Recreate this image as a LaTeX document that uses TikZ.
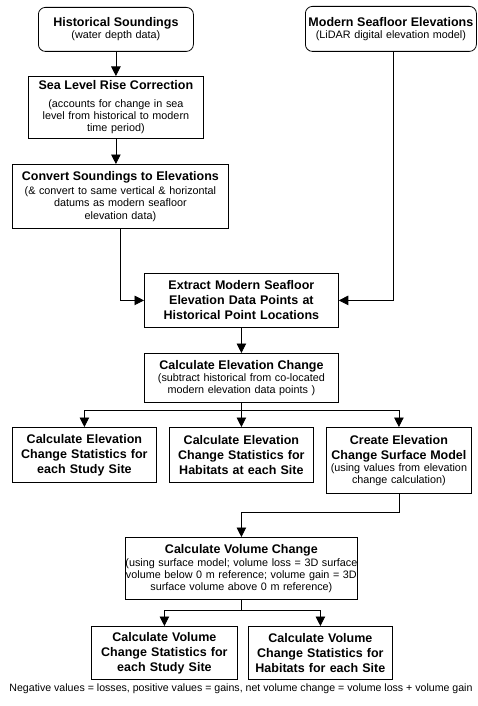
\documentclass[tikz,border=0pt]{standalone}
\usepackage{fontspec}
\setmainfont{Liberation Sans}
\usetikzlibrary{arrows.meta}
\def\steptitle#1{{\fontsize{12.5}{15}\selectfont\bfseries #1}}
\tikzset{
	flowbox/.style={draw=black, line width=0.8pt, anchor=north west, align=center, inner sep=0pt, font=\fontsize{10.8}{12.2}\selectfont},
	titlebox/.style={flowbox, font=\fontsize{12.5}{15}\selectfont\bfseries},
	startbox/.style={flowbox, rounded corners=7pt},
	flowarrow/.style={line width=0.8pt, -{Triangle[length=9.5pt,width=9.5pt]}},
}

\begin{document}
\begin{tikzpicture}[x=1pt, y=-1pt]
		%%%%% START %%%%%
		\useasboundingbox (0,0) rectangle (477,706);
		
		\node[startbox, text width=155pt, minimum height=44pt] (hist) at (38,7) {\steptitle{Historical Soundings}\\(water depth data)};
		\node[startbox, text width=171pt, minimum height=45pt] (modern) at (305,6) {\steptitle{Modern Seafloor Elevations}\\(LiDAR digital elevation model)};
		
		\node[flowbox, text width=175pt, minimum height=62pt] (slr) at (28,76) {\steptitle{Sea Level Rise Correction}\\[5.5pt](accounts for change in sea\\level from historical to modern\\time period)};
		\node[flowbox, text width=216pt, minimum height=64pt] (conv) at (12,164) {\steptitle{Convert Soundings to Elevations}\\[2pt](\& convert to same vertical \& horizontal\\datums as modern seafloor\\elevation data)};
		
		\node[titlebox, text width=194pt, minimum height=54pt] (extract) at (144,273) {Extract Modern Seafloor\\Elevation Data Points at\\Historical Point Locations};
		\node[flowbox, text width=194pt, minimum height=49pt] (elev) at (144,353) {\steptitle{Calculate Elevation Change}\\(subtract historical from co-located\\modern elevation data points )};
		
		\node[titlebox, text width=144pt, minimum height=55pt] (statsite) at (12,427) {Calculate Elevation\\Change Statistics for\\each Study Site};
		\node[titlebox, text width=144pt, minimum height=55pt] (stathab) at (169,427) {Calculate Elevation\\Change Statistics for\\Habitats at each Site};
		\node[flowbox, text width=145pt, minimum height=66pt] (surf) at (326,427) {\steptitle{Create Elevation\\[2.8pt]Change Surface Model}\\(using values from elevation\\change calculation)};
		
		\node[flowbox, text width=232pt, minimum height=62pt] (vol) at (125,537) {\steptitle{Calculate Volume Change}\\[0.6pt](using surface model; volume loss = 3D surface\\volume below 0 m reference; volume gain = 3D\\surface volume above 0 m reference)};
		
		\node[titlebox, text width=146pt, minimum height=53pt] (volsite) at (91,626) {Calculate Volume\\Change Statistics for\\each Study Site};
		\node[titlebox, text width=144pt, minimum height=53pt] (volhab) at (248,626) {Calculate Volume\\Change Statistics for\\Habitats for each Site};
		
		\node[font=\fontsize{10.6}{12}\selectfont, inner sep=0pt] (note) at (241,689) {Negative values = losses, positive values = gains, net volume change = volume loss + volume gain};
		
		% arrows
		\draw[flowarrow] (hist) -- (slr);
		\draw[flowarrow] (slr.south) -- (slr.south |- conv.north);
		\draw[flowarrow] (conv.south) |- (extract.west);
		\draw[flowarrow] ([xshift=2pt]modern.south) |- (extract.east);
		\draw[flowarrow] (extract) -- (elev);
		
		\coordinate (split1) at ([yshift=-8pt]elev.south);
		\draw[flowarrow] (split1) -| (statsite.north);
		\draw[flowarrow] (split1) -| (surf.north);
		\draw[flowarrow] (elev.south) -- (stathab.north);
		
		\draw[flowarrow] (surf.south) -- ++(0,19) -| (vol.north);
		
		\coordinate (split2) at ([yshift=-11pt]vol.south);
		\draw[line width=0.8pt] (vol.south) -- (split2);
		\draw[flowarrow] (split2) -| (volsite.north);
		\draw[flowarrow] (split2) -| (volhab.north);
		
		%%%%% END %%%%%
\end{tikzpicture}
\end{document}
